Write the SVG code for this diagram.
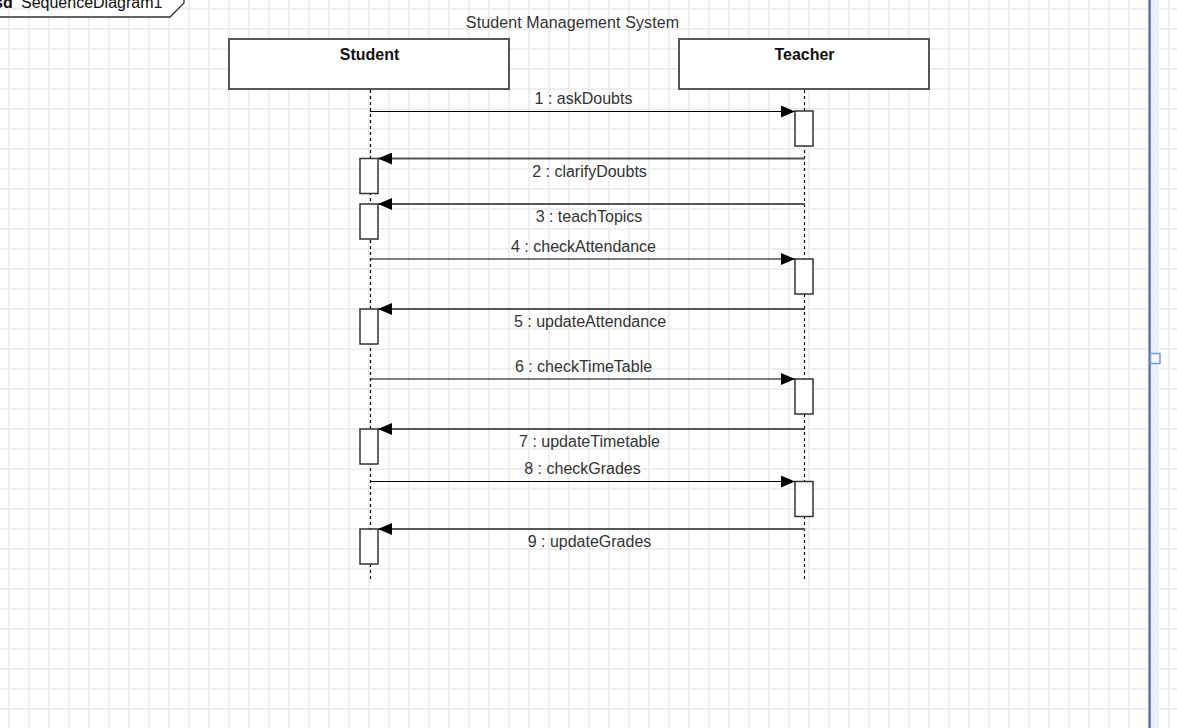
<svg xmlns="http://www.w3.org/2000/svg" width="1177" height="728" viewBox="0 0 1177 728">
<style>
  .lbl{font-family:"Liberation Sans",Arial,sans-serif;font-size:16px;fill:#333;text-anchor:middle}
  .head{font-family:"Liberation Sans",Arial,sans-serif;font-size:16px;font-weight:bold;fill:#111;text-anchor:middle}
  .box{fill:#fff;stroke:#555;stroke-width:2}
  .act{fill:#fff;stroke:#333;stroke-width:1.5}
  .life{stroke:#000;stroke-width:1.2;stroke-dasharray:3 3;fill:none}
  .call{stroke:#000;stroke-width:1.2;fill:none}
  .ret{stroke:#555;stroke-width:2;fill:none}
</style>
<defs>
  <pattern id="grid" patternUnits="userSpaceOnUse" x="0" y="0" width="20" height="20">
    <rect x="8.2" y="0" width="1.6" height="20" fill="#ebebeb"/>
    <rect x="0" y="8.2" width="20" height="1.6" fill="#ebebeb"/>
  </pattern>
  <marker id="arr" markerUnits="userSpaceOnUse" markerWidth="14" markerHeight="12" refX="14" refY="6" orient="auto">
    <path d="M0,0 L14,6 L0,12 Z" fill="#000"/>
  </marker>
</defs>
<rect width="1177" height="728" fill="#fff"/>
<rect width="1177" height="728" fill="url(#grid)"/>

<!-- right edge -->
<rect x="1150" y="0" width="9" height="728" fill="#e8f0fc"/>
<rect x="1148.5" y="0" width="2.2" height="728" fill="#4d6a9a"/>
<rect x="1150.5" y="353.5" width="9.5" height="10" fill="#f4f8fe" stroke="#7a9cd6" stroke-width="1.5"/>

<!-- frame label -->
<g id="frame">
  <polyline points="0,17 170,17 184,3 184,-2" fill="#fff" stroke="#333" stroke-width="1.3"/>
  <text x="-6" y="8" font-family="Liberation Sans,Arial,sans-serif" font-size="16" fill="#111"><tspan font-weight="bold">sd</tspan><tspan x="21">SequenceDiagram1</tspan></text>
</g>

<text class="lbl" x="572.5" y="28" style="letter-spacing:0.1px">Student Management System</text>

<g id="student">
  <rect class="box" x="229" y="39" width="280" height="50"/>
  <text class="head" x="369.5" y="60">Student</text>
  <line class="life" x1="370.5" y1="90" x2="370.5" y2="582"/>
</g>
<g id="teacher">
  <rect class="box" x="679" y="39" width="250" height="50"/>
  <text class="head" x="804.5" y="60">Teacher</text>
  <line class="life" x1="804.5" y1="90" x2="804.5" y2="582"/>
</g>

<g id="activations">
  <rect class="act" x="795" y="111" width="18" height="35"/>
  <rect class="act" x="360" y="158.5" width="18" height="35"/>
  <rect class="act" x="360" y="204" width="18" height="35"/>
  <rect class="act" x="795" y="259" width="18" height="35"/>
  <rect class="act" x="360" y="309" width="18" height="35"/>
  <rect class="act" x="795" y="379" width="18" height="35"/>
  <rect class="act" x="360" y="429" width="18" height="35"/>
  <rect class="act" x="795" y="481.5" width="18" height="35"/>
  <rect class="act" x="360" y="529" width="18" height="35"/>
</g>

<g id="connectors">
  <line class="call" x1="370" y1="111.5" x2="795" y2="111.5" marker-end="url(#arr)"/>
  <line class="ret" x1="805" y1="158.5" x2="378" y2="158.5" marker-end="url(#arr)"/>
  <line class="ret" x1="805" y1="204" x2="378" y2="204" marker-end="url(#arr)"/>
  <line class="call" x1="370" y1="259" x2="795" y2="259" marker-end="url(#arr)"/>
  <line class="ret" x1="805" y1="309" x2="378" y2="309" marker-end="url(#arr)"/>
  <line class="call" x1="370" y1="379" x2="795" y2="379" marker-end="url(#arr)"/>
  <line class="ret" x1="805" y1="429" x2="378" y2="429" marker-end="url(#arr)"/>
  <line class="call" x1="370" y1="481.5" x2="795" y2="481.5" marker-end="url(#arr)"/>
  <line class="ret" x1="805" y1="529" x2="378" y2="529" marker-end="url(#arr)"/>
</g>

<g id="labels">
  <text class="lbl" x="583.5" y="104">1 : askDoubts</text>
  <text class="lbl" x="589.5" y="177">2 : clarifyDoubts</text>
  <text class="lbl" x="589" y="222">3 : teachTopics</text>
  <text class="lbl" x="583.5" y="252">4 : checkAttendance</text>
  <text class="lbl" x="590" y="327">5 : updateAttendance</text>
  <text class="lbl" x="583.5" y="372">6 : checkTimeTable</text>
  <text class="lbl" x="589.5" y="447">7 : updateTimetable</text>
  <text class="lbl" x="582.5" y="474">8 : checkGrades</text>
  <text class="lbl" x="589.5" y="547">9 : updateGrades</text>
</g>
</svg>
